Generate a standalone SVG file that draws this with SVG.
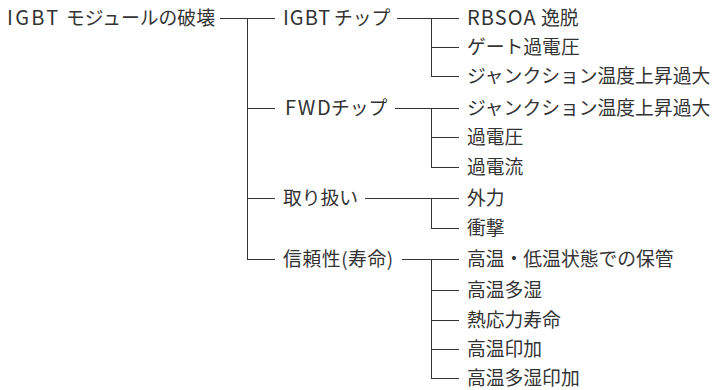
<svg xmlns="http://www.w3.org/2000/svg" width="714" height="390" viewBox="0 0 714 390">
<style>
text{font-family:"Noto Sans CJK JP","Noto Sans",sans-serif;font-size:18.8px;fill:#333;}
.lat{font-size:20px;}
.c path{fill:none;stroke:#333;stroke-width:1;shape-rendering:crispEdges;}
</style>
<rect width="714" height="390" fill="#fff"/>
<g id="connectors" class="c">
<path d="M220 18.5H275M247.5 18.5V259.5M247.5 108.5H275M247.5 198.5H275M247.5 259.5H275"/>
<path d="M397 18.5H459M431.5 18.5V76.5M431.5 47.5H459M431.5 76.5H459"/>
<path d="M395 108.5H459M431.5 108.5V167.5M431.5 137.5H459M431.5 167.5H459"/>
<path d="M365 198.5H459M431.5 198.5V228.5M431.5 228.5H459"/>
<path d="M402 259.5H459M431.5 259.5V378.5M431.5 290.5H459M431.5 320.5H459M431.5 349.5H459M431.5 378.5H459"/>
</g>
<g id="root"><text x="7" y="25"><tspan class="lat" letter-spacing="2.3">IGBT</tspan><tspan x="66">モジュールの破壊</tspan></text></g>
<g id="igbt-chip"><text x="283" y="25"><tspan class="lat" letter-spacing="1">IGBT</tspan><tspan x="334">チップ</tspan></text></g>
<g id="fwd-chip"><text x="285" y="115"><tspan class="lat" letter-spacing="1.6">FWD</tspan><tspan x="331">チップ</tspan></text></g>
<g id="handling"><text x="283" y="205">取り扱い</text></g>
<g id="reliability"><text x="283" y="266" letter-spacing="0.6">信頼性(寿命)</text></g>
<g id="rbsoa"><text x="467" y="25"><tspan class="lat" letter-spacing="1.1">RBSOA</tspan><tspan x="541">逸脱</tspan></text></g>
<g id="gate-ov"><text x="467" y="54">ゲート過電圧</text></g>
<g id="igbt-tj"><text x="467" y="83">ジャンクション温度上昇過大</text></g>
<g id="fwd-tj"><text x="467" y="115">ジャンクション温度上昇過大</text></g>
<g id="fwd-ov"><text x="467" y="144">過電圧</text></g>
<g id="fwd-oc"><text x="467" y="174">過電流</text></g>
<g id="ext-force"><text x="467" y="205">外力</text></g>
<g id="shock"><text x="467" y="235">衝撃</text></g>
<g id="storage"><text x="467" y="266">高温・低温状態での保管</text></g>
<g id="humid"><text x="467" y="297">高温多湿</text></g>
<g id="thermal"><text x="467" y="327">熱応力寿命</text></g>
<g id="ht-bias"><text x="467" y="356">高温印加</text></g>
<g id="hh-bias"><text x="467" y="385">高温多湿印加</text></g>
</svg>
